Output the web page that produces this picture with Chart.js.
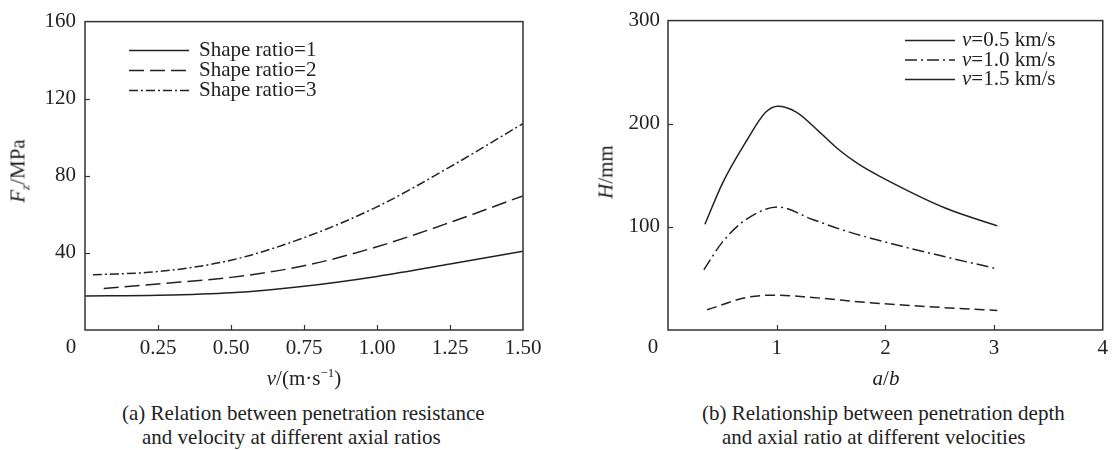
<!DOCTYPE html>
<html lang="en">
<head>
    <meta charset="UTF-8">
    <script src="https://cdn.jsdelivr.net/npm/chart.js"></script>
    <style>
        body { margin: 0; background: #fff; }
        #wrap { position: relative; width: 1114px; height: 450px; font-family: "Liberation Serif", serif; color: #222; }
        .plot { position: absolute; top: 0; width: 557px; height: 395px; }
        .t { position: absolute; font-size: 21px; white-space: nowrap; transform: translate(-50%, -50%); }
        .t.rot { transform: translate(-50%, -50%) rotate(-90deg); }
        .cap { position: absolute; font-size: 21px; white-space: nowrap; transform: translateY(-50%); }
        sup, sub { font-size: 13px; line-height: 0; }
    </style>
    <title>Penetration resistance and depth</title>
</head>
<body>

<div id="wrap">
    <div class="plot" style="left:0"><canvas id="chartA" width="557" height="395"></canvas></div>
    <div class="plot" style="left:557px"><canvas id="chartB" width="557" height="395"></canvas></div>

    <div class="t rot" style="left:18px; top:171px"><i>F<sub>z</sub></i>/MPa</div>
    <div class="t" style="left:304px; top:378px"><i>v</i>/(m·s<sup>−1</sup>)</div>
    <div class="t rot" style="left:606px; top:172px"><i>H</i>/mm</div>
    <div class="t" style="left:886px; top:378px"><i>a</i>/<i>b</i></div>

    <div class="cap" style="left:122px; top:413px">(a) Relation between penetration resistance</div>
    <div class="cap" style="left:142px; top:437px">and velocity at different axial ratios</div>
    <div class="cap" style="left:702px; top:413px">(b) Relationship between penetration depth</div>
    <div class="cap" style="left:722px; top:437px">and axial ratio at different velocities</div>
</div>

<script>
    // (a) penetration resistance vs velocity
    const vRatio1 = [0, 0.25, 0.5, 0.75, 1.0, 1.25, 1.5];
    const fRatio1 = [17.7, 18.0, 19.3, 22.7, 27.8, 34.2, 40.9];
    const vRatio2 = [0.064, 0.25, 0.5, 0.75, 1.0, 1.25, 1.5];
    const fRatio2 = [21.5, 23.9, 27.3, 33.3, 43.2, 55.8, 69.6];
    const vRatio3 = [0.027, 0.25, 0.5, 0.75, 1.0, 1.25, 1.5];
    const fRatio3 = [28.6, 30.3, 36.2, 47.9, 63.9, 84.6, 107.1];
    const labelsA = ['Shape ratio=1', 'Shape ratio=2', 'Shape ratio=3'];

    // (b) penetration depth vs axial ratio
    const abV05 = [0.36, 0.72, 0.99, 1.33, 1.82, 2.24, 2.64, 3.03];
    const hV05 = [19.6, 31.5, 33.8, 31.5, 26.8, 23.7, 21.1, 18.9];
    const abV10 = [0.33, 0.5, 0.72, 1.01, 1.33, 1.63, 2.06, 2.55, 3.03];
    const hV10 = [58.4, 85.2, 107.2, 119.2, 107.2, 96.2, 83.6, 71, 59.3];
    const abV15 = [0.34, 0.5, 0.72, 0.9, 1.01, 1.18, 1.39, 1.57, 1.75, 1.94, 2.55, 3.03];
    const hV15 = [102.5, 142, 183, 211.3, 217, 211.3, 192.4, 175, 161, 149.5, 118.3, 101];
    const labelsB = ['v=0.5 km/s', 'v=1.0 km/s', 'v=1.5 km/s'];

    const INK = '#222';
    const FONT = '21px "Liberation Serif", serif';
    Chart.defaults.font.family = '"Liberation Serif", serif';
    Chart.defaults.font.size = 21;
    Chart.defaults.color = INK;

    const pts = (xs, ys) => xs.map((x, i) => ({ x: x, y: ys[i] }));

    function line(label, data, dash, legendDash) {
        return {
            label: label,
            data: data,
            borderColor: INK,
            borderWidth: 1.5,
            borderDash: dash,
            legendDash: legendDash || dash,
            pointRadius: 0,
            fill: false,
            cubicInterpolationMode: 'monotone'
        };
    }

    // box frame, inward ticks, shared "0" at the corner and the legend
    const framePlugin = {
        id: 'frame',
        afterDraw(chart, args, opts) {
            const ctx = chart.ctx;
            const a = chart.chartArea;
            ctx.save();
            ctx.strokeStyle = '#333';
            ctx.lineWidth = 1.5;
            ctx.setLineDash([]);
            ctx.strokeRect(a.left, a.top, a.right - a.left, a.bottom - a.top);

            ctx.lineWidth = 1.2;
            const xs = chart.scales.x, ys = chart.scales.y;
            xs.ticks.forEach(t => {
                if (t.value <= xs.min || t.value >= xs.max) return;
                const p = Math.round(xs.getPixelForValue(t.value)) + 0.5;
                ctx.beginPath(); ctx.moveTo(p, a.bottom); ctx.lineTo(p, a.bottom - 5); ctx.stroke();
            });
            ys.ticks.forEach(t => {
                if (t.value <= ys.min || t.value >= ys.max) return;
                const p = Math.round(ys.getPixelForValue(t.value)) + 0.5;
                ctx.beginPath(); ctx.moveTo(a.left, p); ctx.lineTo(a.left + 5, p); ctx.stroke();
            });

            ctx.fillStyle = INK;
            ctx.font = FONT;
            ctx.textAlign = 'center';
            ctx.textBaseline = 'middle';
            ctx.fillText('0', a.left - opts.zeroOff, a.bottom + 17);

            // legend
            ctx.textAlign = 'left';
            chart.data.datasets.forEach((ds, i) => {
                const y = a.top + opts.dy + i * opts.rowH;
                const x0 = a.left + opts.dx;
                ctx.lineWidth = 1.5;
                ctx.strokeStyle = INK;
                ctx.setLineDash(ds.legendDash || []);
                ctx.beginPath(); ctx.moveTo(x0, y); ctx.lineTo(x0 + opts.len, y); ctx.stroke();
                ctx.setLineDash([]);
                let tx = x0 + opts.len + opts.gap;
                let txt = ds.label;
                if (opts.italicLead && txt.startsWith(opts.italicLead)) {
                    ctx.font = 'italic ' + FONT;
                    ctx.fillText(opts.italicLead, tx, y);
                    tx += ctx.measureText(opts.italicLead).width;
                    txt = txt.slice(opts.italicLead.length);
                    ctx.font = FONT;
                }
                ctx.fillText(txt, tx, y);
            });
            ctx.restore();
        }
    };

    function axes(xMax, xStep, xDigits, yMax, yStep, yWidth, yPad) {
        return {
            x: {
                type: 'linear', min: 0, max: xMax,
                grid: { display: false, drawTicks: false },
                border: { display: false },
                ticks: {
                    stepSize: xStep, padding: 6, maxRotation: 0,
                    callback: v => v === 0 ? '' : v.toFixed(xDigits)
                },
                afterFit: s => { s.height = 65; }
            },
            y: {
                type: 'linear', min: 0, max: yMax,
                grid: { display: false, drawTicks: false },
                border: { display: false },
                ticks: {
                    stepSize: yStep, padding: yPad,
                    callback: v => v === 0 ? '' : v
                },
                afterFit: s => { s.width = yWidth; }
            }
        };
    }

    new Chart(document.getElementById('chartA'), {
        type: 'line',
        data: {
            datasets: [
                line(labelsA[0], pts(vRatio1, fRatio1), []),
                line(labelsA[1], pts(vRatio2, fRatio2), [15, 6]),
                line(labelsA[2], pts(vRatio3, fRatio3), [9, 3, 2, 3])
            ]
        },
        options: {
            responsive: false,
            animation: false,
            layout: { padding: { top: 13, right: 34, left: 0, bottom: 0 } },
            scales: axes(1.5, 0.25, 2, 160, 40, 85, 9),
            plugins: {
                legend: { display: false },
                tooltip: { enabled: false },
                frame: { dx: 44, dy: 29, rowH: 20, len: 60, gap: 10, zeroOff: 14 }
            }
        },
        plugins: [framePlugin]
    });

    new Chart(document.getElementById('chartB'), {
        type: 'line',
        data: {
            datasets: [
                line(labelsB[0], pts(abV05, hV05), [10, 5], []),
                line(labelsB[1], pts(abV10, hV10), [12, 4, 2, 4]),
                line(labelsB[2], pts(abV15, hV15), [])
            ]
        },
        options: {
            responsive: false,
            animation: false,
            layout: { padding: { top: 13, right: 8, left: 0, bottom: 0 } },
            scales: axes(4, 1, 0, 300, 100, 111, 8),
            plugins: {
                legend: { display: false },
                tooltip: { enabled: false },
                frame: { dx: 237, dy: 20, rowH: 19.5, len: 50, gap: 7, italicLead: 'v', zeroOff: 15 }
            }
        },
        plugins: [framePlugin]
    });
</script>

</body>
</html>
